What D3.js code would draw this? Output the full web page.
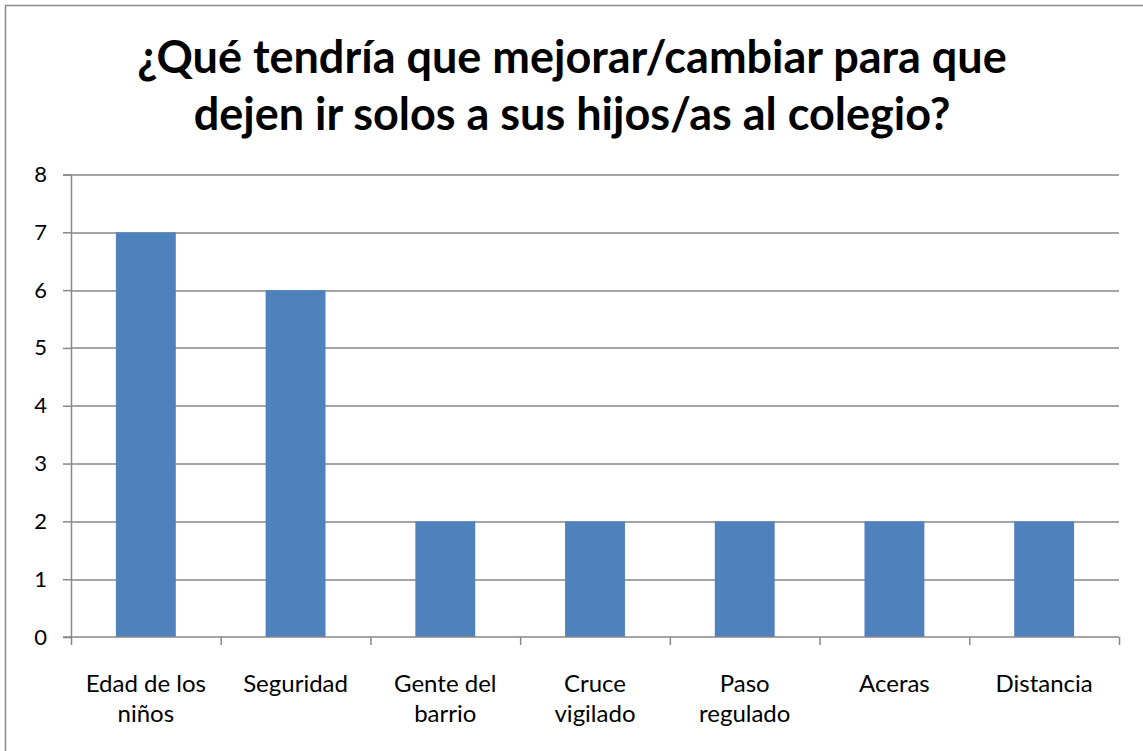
<!DOCTYPE html>
<html>
<head>
<meta charset="utf-8">
<script src="https://cdn.jsdelivr.net/npm/d3@7"></script>
<style>
  body { margin: 0; background: #fff; }
  text { font-family: Lato, "Liberation Sans", sans-serif; fill: #000; }
</style>
</head>
<body>
<div id="chart"></div>
<script>
// chart data
var categories = ["Edad de los niños", "Seguridad", "Gente del barrio", "Cruce vigilado", "Paso regulado", "Aceras", "Distancia"];
var categoryLines = [["Edad de los", "niños"], ["Seguridad"], ["Gente del", "barrio"], ["Cruce", "vigilado"], ["Paso", "regulado"], ["Aceras"], ["Distancia"]];
var values = [7, 6, 2, 2, 2, 2, 2];
var yTicks = [0, 1, 2, 3, 4, 5, 6, 7, 8];
var titleLines = ["¿Qué tendría que mejorar/cambiar para que", "dejen ir solos a sus hijos/as al colegio?"];

var svgWidth = 1143;
var svgHeight = 751;

var margin = { top: 174.5, right: 24, bottom: 114, left: 71 };
var width = svgWidth - margin.left - margin.right;
var height = svgHeight - margin.top - margin.bottom;

var svg = d3.select("#chart")
  .append("svg")
  .attr("width", svgWidth)
  .attr("height", svgHeight);

// outer frame
svg.append("rect")
  .attr("x", 5.5)
  .attr("y", 5.5)
  .attr("width", 1150)
  .attr("height", 760)
  .attr("fill", "none")
  .attr("stroke", "#8c8c8c")
  .attr("stroke-width", 1.5);

// title
svg.append("text")
  .attr("text-anchor", "middle")
  .attr("font-size", 45)
  .attr("font-weight", "bold")
  .selectAll("tspan")
  .data(titleLines)
  .enter()
  .append("tspan")
  .attr("x", 572)
  .attr("y", (d, i) => 73 + i * 57)
  .text(d => d);

var chartGroup = svg.append("g")
  .attr("transform", `translate(${margin.left}, ${margin.top})`);

var xScale = d3.scaleBand()
  .domain(categories)
  .range([0, width])
  .paddingInner(0.6)
  .paddingOuter(0.3);

var yScale = d3.scaleLinear()
  .domain([0, 8])
  .range([height, 0]);

// gridlines
chartGroup.append("g")
  .selectAll("line")
  .data(yTicks.filter(d => d > 0))
  .enter()
  .append("line")
  .attr("x1", 0)
  .attr("x2", width)
  .attr("y1", d => Math.round(yScale(d)) + 0.5)
  .attr("y2", d => Math.round(yScale(d)) + 0.5)
  .attr("stroke", "#878787")
  .attr("stroke-width", 1.5);

// bars
chartGroup.selectAll("rect.bar")
  .data(values)
  .enter()
  .append("rect")
  .attr("class", "bar")
  .attr("x", (d, i) => xScale(categories[i]))
  .attr("y", d => yScale(d))
  .attr("width", xScale.bandwidth())
  .attr("height", d => height - yScale(d))
  .attr("fill", "#4f81bd");

// y axis
var leftAxis = d3.axisLeft(yScale)
  .tickValues(yTicks)
  .tickSize(8)
  .tickPadding(16)
  .tickFormat(d3.format("d"));

var yAxis = chartGroup.append("g").call(leftAxis);
yAxis.selectAll("path, line").attr("stroke", "#878787").attr("stroke-width", 1.5);
yAxis.select(".domain").attr("d", `M-8,0.5H0.5V${height}`);
yAxis.selectAll("text")
  .attr("font-size", 22)
  .attr("font-family", "Lato, 'Liberation Sans', sans-serif");

// x axis line and ticks at band edges
var step = width / categories.length;
var xAxisG = chartGroup.append("g")
  .attr("transform", `translate(0, ${height})`);
xAxisG.append("line")
  .attr("x1", -8)
  .attr("x2", width)
  .attr("y1", 0)
  .attr("y2", 0)
  .attr("stroke", "#878787")
  .attr("stroke-width", 1.5);
xAxisG.selectAll("line.tick")
  .data(d3.range(categories.length + 1))
  .enter()
  .append("line")
  .attr("class", "tick")
  .attr("x1", d => d * step + 0.5)
  .attr("x2", d => d * step + 0.5)
  .attr("y1", 0)
  .attr("y2", 8)
  .attr("stroke", "#878787")
  .attr("stroke-width", 1.5);

// category labels
var labels = xAxisG.selectAll("text.cat")
  .data(categoryLines)
  .enter()
  .append("text")
  .attr("class", "cat")
  .attr("text-anchor", "middle")
  .attr("font-size", 24);

labels.selectAll("tspan")
  .data(d => d)
  .enter()
  .append("tspan")
  .attr("x", function() {
    var i = categoryLines.indexOf(d3.select(this.parentNode).datum());
    return xScale(categories[i]) + xScale.bandwidth() / 2;
  })
  .attr("y", (d, i) => 55 + i * 30)
  .text(d => d);
</script>
</body>
</html>
